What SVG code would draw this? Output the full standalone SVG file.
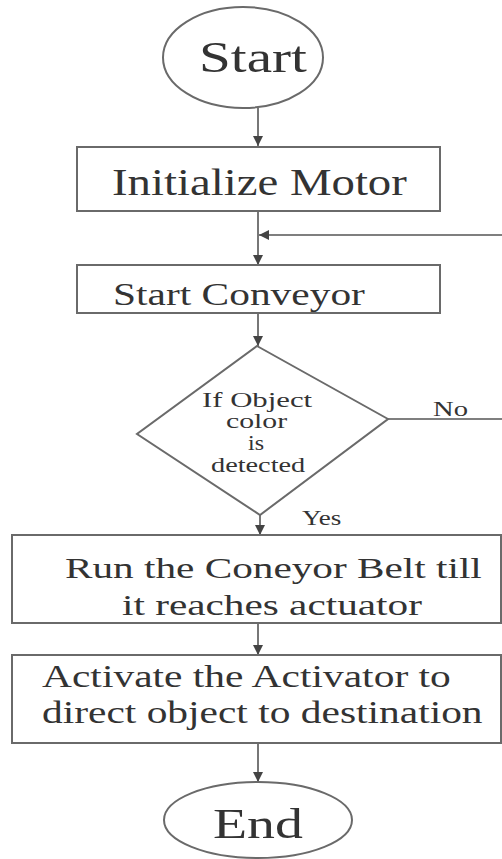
<svg xmlns="http://www.w3.org/2000/svg" width="502" height="859" viewBox="0 0 502 859">
<defs>
<marker id="ah" viewBox="0 0 10 10" refX="10" refY="5" markerWidth="10" markerHeight="10" markerUnits="userSpaceOnUse" orient="auto">
<path d="M0,0 L10,5 L0,10 z" fill="#444"/>
</marker>
<style>
.shape{fill:#fff;stroke:#6a6a6a;stroke-width:2}
.ln{fill:none;stroke:#555;stroke-width:1.6}
.arr{fill:none;stroke:#555;stroke-width:1.6;marker-end:url(#ah)}
</style>
</defs>
<rect width="502" height="859" fill="#fff"/>
<g fill="#333" font-family="Liberation Serif, serif">
<g id="connectors">
<line class="arr" x1="258" y1="108" x2="258" y2="146"/>
<line class="arr" x1="258" y1="211" x2="258" y2="265"/>
<line class="arr" x1="502" y1="235" x2="259" y2="235"/>
<line class="arr" x1="258" y1="313" x2="258" y2="346"/>
<line class="ln" x1="388" y1="419" x2="502" y2="419"/>
<line class="arr" x1="260" y1="515" x2="260" y2="535"/>
<line class="arr" x1="258" y1="623" x2="258" y2="655"/>
<line class="arr" x1="258" y1="743" x2="258" y2="782"/>
<text transform="translate(433,416) scale(1.3,1)" font-size="22">No</text>
<text transform="translate(302,525) scale(1.23,1)" font-size="22">Yes</text>
</g>
<g id="start">
<ellipse class="shape" cx="243" cy="57.5" rx="80" ry="50.5"/>
<text transform="translate(199,72) scale(1.27,1)" font-size="45">Start</text>
</g>
<g id="init-motor">
<rect class="shape" x="77" y="147" width="363" height="64"/>
<text transform="translate(112,195) scale(1.231,1)" font-size="38">Initialize Motor</text>
</g>
<g id="start-conveyor">
<rect class="shape" x="77" y="265" width="363" height="48"/>
<text transform="translate(113,305) scale(1.336,1)" font-size="31">Start Conveyor</text>
</g>
<g id="decision">
<polygon class="shape" points="257,346 388,419 260,515 137,434"/>
<text transform="translate(202,407) scale(1.5,1)" font-size="20.5">If Object</text>
<text transform="translate(226,428) scale(1.45,1)" font-size="20.5">color</text>
<text transform="translate(248,450) scale(1.17,1)" font-size="20.5">is</text>
<text transform="translate(211,471.5) scale(1.38,1)" font-size="20.5">detected</text>
</g>
<g id="run-belt">
<rect class="shape" x="12" y="535" width="489" height="88"/>
<text transform="translate(65,578) scale(1.375,1)" font-size="30">Run the Coneyor Belt till</text>
<text transform="translate(122,615) scale(1.375,1)" font-size="30">it reaches actuator</text>
</g>
<g id="activate">
<rect class="shape" x="12" y="655" width="489" height="88"/>
<text transform="translate(42,687) scale(1.338,1)" font-size="31">Activate the Activator to</text>
<text transform="translate(42,723) scale(1.337,1)" font-size="31">direct object to destination</text>
</g>
<g id="end">
<ellipse class="shape" cx="258" cy="820" rx="94" ry="38"/>
<text transform="translate(213,838) scale(1.33,1)" font-size="42">End</text>
</g>
</g>
</svg>
